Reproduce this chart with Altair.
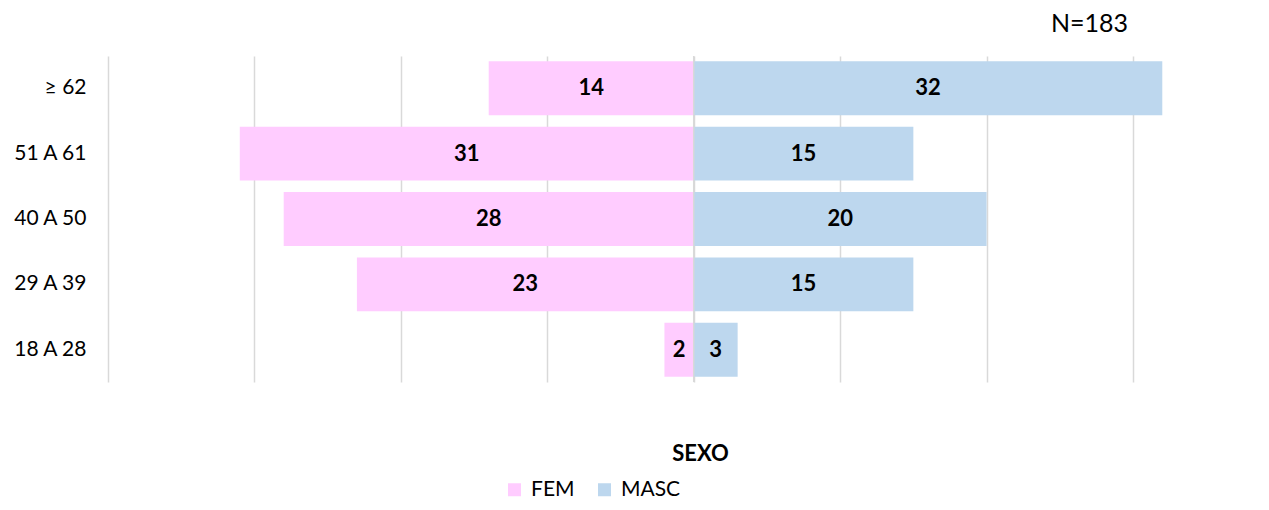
import altair as alt
import pandas as pd

ages = ["≥ 62", "51 A 61", "40 A 50", "29 A 39", "18 A 28"]
fem = [14, 31, 28, 23, 2]
masc = [32, 15, 20, 15, 3]
sexes = ["FEM", "MASC"]
colors = ["#FFCCFF", "#BDD7EE"]
grid_ticks = [-40, -30, -20, -10, 0, 10, 20, 30]

rows = []
for a, f, m in zip(ages, fem, masc):
    rows.append({"age": a, "sex": "FEM", "value": -f, "label": f})
    rows.append({"age": a, "sex": "MASC", "value": m, "label": m})
df = pd.DataFrame(rows)

FONT = "Lato"

x_scale = alt.Scale(domain=[-40, 30], nice=False, zero=False)
y_enc = alt.Y(
    "age:N",
    sort=ages,
    scale=alt.Scale(paddingInner=0.175, paddingOuter=0.08),
    axis=alt.Axis(
        title=None, ticks=False, domain=False, labelPadding=22,
        labelFontSize=21, labelFont=FONT, labelColor="#000000",
    ),
)

base = alt.Chart(df)

bars = base.mark_bar().encode(
    x=alt.X(
        "value:Q",
        scale=x_scale,
        axis=alt.Axis(
            values=grid_ticks, labels=False, ticks=False, domain=False,
            grid=True, gridColor="#D9D9D9", gridWidth=1.5,
            title="SEXO", titleFont=FONT, titleFontSize=22, titleFontWeight="bold",
            titleColor="#000000", titleX=592, titleY=78, titleAlign="center",
            titleBaseline="alphabetic",
        ),
    ),
    y=y_enc,
    color=alt.Color(
        "sex:N",
        scale=alt.Scale(domain=sexes, range=colors),
        legend=alt.Legend(
            title=None, orient="none", legendX=396, legendY=423,
            direction="horizontal", symbolType="square", symbolSize=169,
            symbolStrokeWidth=0, labelFont=FONT, labelFontSize=21,
            labelColor="#000000", labelOffset=6, columnPadding=19,
        ),
    ),
)

zero = alt.Chart(pd.DataFrame({"z": [0]})).mark_rule(
    color="#D9D9D9", strokeWidth=1.5
).encode(x=alt.X("z:Q", scale=x_scale))

labels = base.transform_calculate(mid="datum.value / 2").mark_text(
    font=FONT, fontSize=22, fontWeight="bold", color="#000000", baseline="middle"
).encode(
    x=alt.X("mid:Q", scale=x_scale),
    y=y_enc,
    text="label:Q",
)

n_text = alt.Chart(pd.DataFrame({"t": ["N=183"]})).mark_text(
    font=FONT, fontSize=25, color="#000000", align="right", baseline="alphabetic"
).encode(x=alt.value(1020), y=alt.value(-24), text="t:N")

chart = alt.layer(bars, zero, labels, n_text).properties(
    width=1025, height=326,
    autosize=alt.AutoSizeParams(type="none"),
    padding={"left": 100, "top": 48, "right": 100, "bottom": 118},
).configure_view(stroke=None)

chart.save("out.html", embed_options={"renderer": "svg", "actions": False})
